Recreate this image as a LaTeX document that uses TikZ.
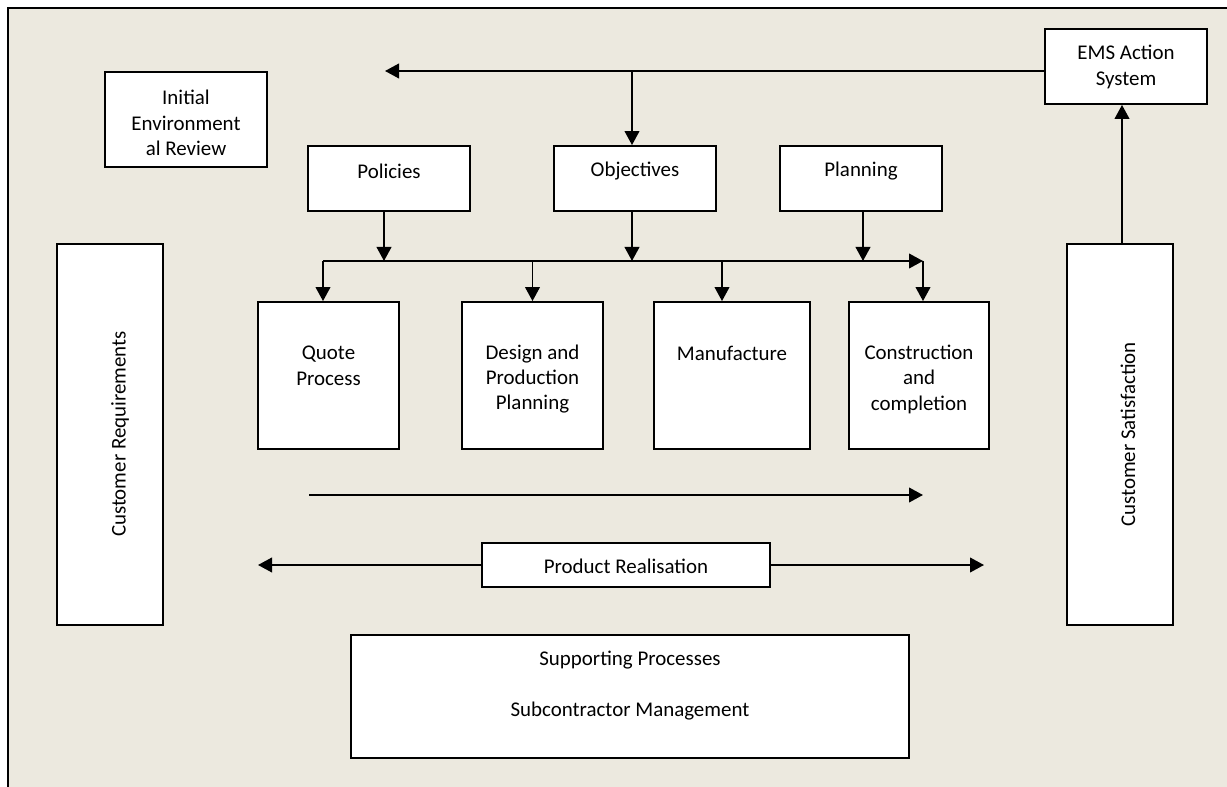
\documentclass[tikz,border=0pt]{standalone}
\usepackage{fontspec}
\setmainfont{Carlito}
\usetikzlibrary{arrows.meta,calc}
\definecolor{bgtan}{HTML}{ECE9DF}
\newcommand\bx[5]{\node[box, minimum width=#4*0.75pt, minimum height=#5*0.75pt] (#1) at ({#2+#4/2},{#3+#5/2}) {};}
\begin{document}
\begin{tikzpicture}[x=0.75pt,y=-0.75pt,
  box/.style={draw=black, fill=white, line width=1.4pt, inner sep=0pt},
  txt/.style={inner sep=0pt, align=center, font=\fontsize{15.7}{19.1}\selectfont},
  arr/.style={line width=1.4pt, -{Triangle[length=10.5pt,width=11pt]}},
  ln/.style={line width=1.4pt}]
\useasboundingbox (0,0) rectangle (1227,787);
\clip (0,0) rectangle (1227,787);
\fill[white] (0,0) rectangle (1227,787);
\draw[fill=bgtan, line width=1.5pt] (8,8) rectangle (1260,820);

% boxes
\bx{ier}{105}{72}{162}{95}
\bx{pol}{308}{146}{162}{65}
\bx{obj}{554}{146}{162}{65}
\bx{pla}{780}{146}{162}{65}
\bx{ems}{1045}{29}{162}{75}
\bx{creq}{57}{244}{106}{381}
\bx{csat}{1067}{244}{106}{381}
\bx{quote}{258}{302}{141}{147}
\bx{des}{462}{302}{141}{147}
\bx{manu}{654}{302}{156}{147}
\bx{con}{849}{302}{140}{147}
\bx{pr}{482}{543}{288}{44}
\bx{sup}{351}{635}{558}{123}

% texts
\node[txt] (ierT) at (186,123) {Initial\\Environment\\al Review};
\node[txt] (polT) at (389,171) {Policies};
\node[txt] (objT) at (635,171) {Objectives};
\node[txt] (plaT) at (861,171) {Planning};
\node[txt] (emsT) at (1126,67) {EMS Action\\System};
\node[txt] (quoteT) at (328.5,366) {Quote\\Process};
\node[txt] (desT) at (532.5,379) {Design and\\Production\\Planning};
\node[txt] (manuT) at (732,353) {Manufacture};
\node[txt] (conT) at (919,379) {Construction\\and\\completion};
\node[txt, rotate=90] (creqT) at (120,434) {Customer Requirements};
\node[txt, rotate=90] (csatT) at (1128,434.5) {Customer Satisfaction};
\node[txt] (prT) at (626,566) {Product Realisation};
\node[txt] (supT) at (630,686) {Supporting Processes\\[19.1pt]Subcontractor Management};

% coordinates
\coordinate (topL) at (385,71);
\coordinate (busL) at (323,261);
\coordinate (busR) at (923,261);
\coordinate (midL) at (309,495);
\coordinate (midR) at (923,495);
\coordinate (prL) at (258,565);
\coordinate (prR) at (984,565);

% top feedback arrow
\draw[arr] (ems.west |- topL) -- (topL);
\draw[arr] ($(obj.north |- topL)+(-3,0)$) -- ($(obj.north)+(-3,0)$);

% inputs to the bus
\draw[arr] ($(pol.south)+(-5,0)$) -- ($(pol.south |- busL)+(-5,0)$);
\draw[arr] ($(obj.south)+(-3,0)$) -- ($(obj.south |- busL)+(-3,0)$);
\draw[arr] ($(pla.south)+(2,0)$) -- ($(pla.south |- busL)+(2,0)$);

% bus
\draw[arr] (busL) -- (busR);
\draw[arr] (busL) -- (busL |- quote.north);
\draw[arr] (des.north |- busL) -- (des.north);
\draw[arr] ($(manu.north |- busL)+(-10,0)$) -- ($(manu.north)+(-10,0)$);
\draw[arr] (busR) -- (busR |- con.north);

% middle flow arrow
\draw[arr] (midL) -- (midR);

% product realisation
\draw[arr] (pr.west) -- (prL);
\draw[arr] (pr.east) -- (prR);

% satisfaction to EMS
\draw[arr] ($(csat.north)+(2,0)$) -- ($(csat.north |- ems.south)+(2,0)$);
\end{tikzpicture}
\end{document}
